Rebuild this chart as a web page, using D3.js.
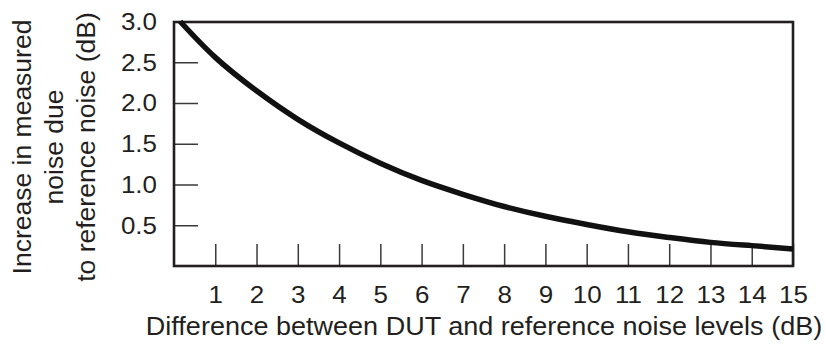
<!DOCTYPE html>
<html><head><meta charset="utf-8">
<script src="https://cdn.jsdelivr.net/npm/d3@7"></script>
<style>
html,body{margin:0;padding:0;background:#fff;}
svg text{font-family:"Liberation Sans",Arial,Helvetica,sans-serif;fill:#231f20;}
</style></head>
<body><svg id="c" width="825" height="344"></svg>
<script>
const diffDb = [0.15, 1, 2, 3, 4, 5, 6, 7, 8, 9, 10, 11, 12, 13, 14, 15];
const increaseDb = [3.0, 2.56, 2.15, 1.80, 1.51, 1.26, 1.05, 0.88, 0.73, 0.61, 0.51, 0.42, 0.35, 0.29, 0.25, 0.21];
const xTicks = [1,2,3,4,5,6,7,8,9,10,11,12,13,14,15];
const yTicks = [0.5,1.0,1.5,2.0,2.5,3.0];
const xTitle = "Difference between DUT and reference noise levels (dB)";
const yTitle = ["Increase in measured","noise due","to reference noise (dB)"];

const svg = d3.select("#c");
const L=174, R=793, T=21.5, B=266;
const x = d3.scaleLinear().domain([0,15]).range([L,R]);
const y = d3.scaleLinear().domain([0,3]).range([B,T]);
const ink="#231f20";
const sx = 1.06;

const gy = svg.append("g").attr("transform",`translate(${L},0)`)
  .call(d3.axisLeft(y).tickValues(yTicks).tickFormat(d3.format(".1f")).tickSizeInner(-24).tickSizeOuter(0).tickPadding(17));
gy.select(".domain").remove();
gy.selectAll("line").attr("stroke","#3a3a3a").attr("stroke-width",1.5);
gy.selectAll("text").attr("font-size","24.5px").attr("fill",ink).attr("font-family","Liberation Sans, Arial, sans-serif")
  .attr("x",-17/sx).attr("transform",`scale(${sx},1)`);

const gx = svg.append("g").attr("transform",`translate(0,${B})`)
  .call(d3.axisBottom(x).tickValues(xTicks).tickFormat(d3.format("d")).tickSizeInner(-22).tickSizeOuter(0).tickPadding(20));
gx.select(".domain").remove();
gx.selectAll("line").attr("stroke","#3a3a3a").attr("stroke-width",1.5);
gx.selectAll("text").attr("font-size","24.5px").attr("fill",ink).attr("font-family","Liberation Sans, Arial, sans-serif")
  .attr("transform",`scale(${sx},1)`);

svg.append("rect").attr("x",L).attr("y",T+0.5).attr("width",R-L).attr("height",B-T-0.5)
  .attr("fill","none").attr("stroke",ink).attr("stroke-width",2.6);

const pts = diffDb.map((d,i)=>[d,increaseDb[i]]);
svg.append("path").datum(pts)
  .attr("d", d3.line().x(d=>x(d[0])).y(d=>y(d[1])).curve(d3.curveNatural))
  .attr("fill","none").attr("stroke","#111").attr("stroke-width",5.5);

svg.append("text").attr("transform",`translate(484,335) scale(${sx},1)`).attr("text-anchor","middle")
  .attr("font-size","25.5px").text(xTitle);
const yt = svg.append("text").attr("transform","translate(0,147) rotate(-90)")
  .attr("text-anchor","middle").attr("font-size","26.5px");
const bases=[31,63,95];
yTitle.forEach((t,i)=>yt.append("tspan").attr("x",0).attr("y",bases[i]).text(t));
</script></body></html>
